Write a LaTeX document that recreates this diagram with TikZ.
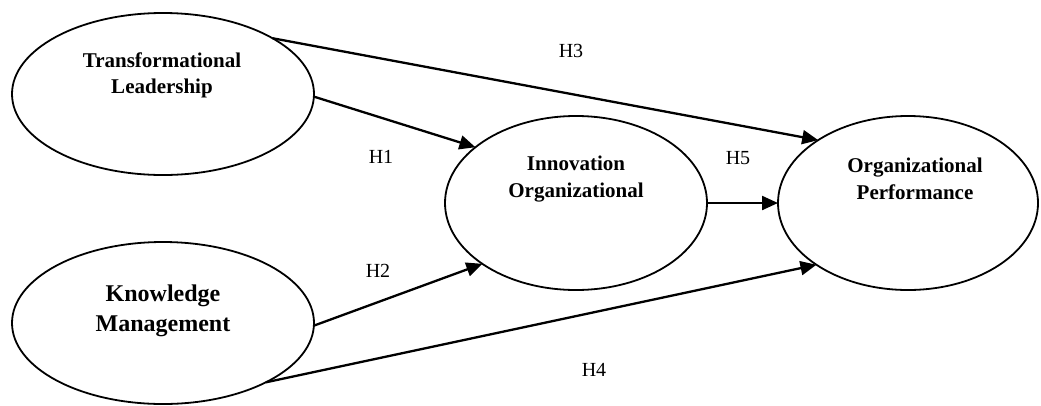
\documentclass[tikz,border=0pt]{standalone}
\usepackage{fontspec}
\setmainfont{Liberation Serif}
\usetikzlibrary{arrows.meta,shapes.geometric}
\begin{document}
\begin{tikzpicture}[x=1pt,y=-1pt,
  construct/.style={draw=black,line width=1.8pt,ellipse,inner sep=0pt,outer sep=0pt},
  ctext/.style={font=\bfseries\fontsize{21}{26}\selectfont,align=center,inner sep=0pt},
  hlabel/.style={font=\fontsize{20}{22}\selectfont,inner sep=0pt},
  path/.style={line width=2.3pt,-{Triangle[length=16pt,width=14pt]}}]
\useasboundingbox (0,0) rectangle (1041,405);
\node[construct,minimum width=302pt,minimum height=162pt] (tl) at (163,94) {};
\node[construct,minimum width=302pt,minimum height=162pt] (km) at (163,323) {};
\node[construct,minimum width=262pt,minimum height=174pt] (io) at (576,203) {};
\node[construct,minimum width=260pt,minimum height=174pt] (op) at (908,203) {};
\node[ctext] (tlt) at (162,75) {Transformational\\Leadership};
\node[ctext,font=\bfseries\fontsize{24}{30}\selectfont] (kmt) at (163,311) {Knowledge\\Management};
\node[ctext,font=\bfseries\fontsize{21}{27}\selectfont] (iot) at (576,179) {Innovation\\Organizational};
\node[ctext,font=\bfseries\fontsize{21}{27}\selectfont] (opt) at (915,179) {Organizational\\Performance};
\draw[path] (tl.-1) -- (io.151.7);
\draw[path] (tl.27.6) -- (op.145.9);
\draw[path] (km.-1) -- (io.213.7);
\draw[path] (km.-30.2) -- (op.214.1);
\draw[path] (io.east) -- (op.west);
\node[hlabel] (h1) at (381,157) {H1};
\node[hlabel] (h2) at (378,271) {H2};
\node[hlabel] (h3) at (571,51) {H3};
\node[hlabel] (h4) at (594,370) {H4};
\node[hlabel] (h5) at (738,158) {H5};
\end{tikzpicture}
\end{document}
